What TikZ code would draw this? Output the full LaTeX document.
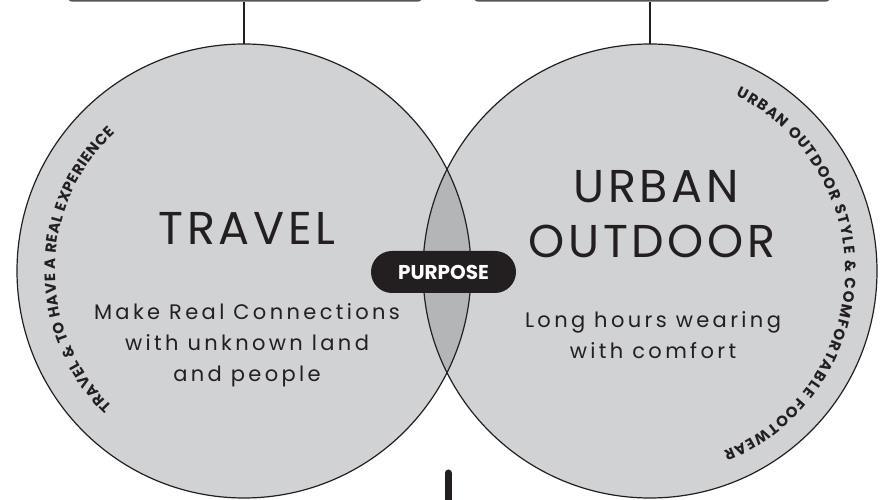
\documentclass[tikz,border=0pt]{standalone}
\usepackage{fontspec}
\setmainfont{Poppins}
\newfontfamily\titlefont[LetterSpace=8]{Poppins}
\newfontfamily\bodyfont[LetterSpace=16]{Poppins}
\usetikzlibrary{calc}
\usetikzlibrary{decorations.text}
\definecolor{ink}{HTML}{231F20}
\definecolor{disc}{HTML}{D1D2D4}
\definecolor{lensgray}{HTML}{B4B5B7}
\definecolor{boxline}{HTML}{555555}
\newcommand{\ringfont}{\bfseries\fontsize{15}{15}\selectfont}
\tikzset{x=1pt, y=1pt,
  venn/.style={circle, fill=disc, minimum size=454pt, inner sep=0pt},
  topbox/.style={draw=boxline, line width=1.5pt, rounded corners=6pt, fill=white, minimum height=30pt, inner sep=0pt},
  title/.style={font=\titlefont\fontsize{46}{50}\selectfont, text=ink, anchor=base},
  blurb/.style={font=\bodyfont\fontsize{21}{31}\selectfont, text=ink, align=center},
  pill/.style={fill=ink, text=white, rounded corners=21pt, minimum width=145pt, minimum height=42pt, inner sep=0pt, font=\bfseries\fontsize{20}{20}\selectfont}
}

\begin{document}
\begin{tikzpicture}
  \def\rad{227}
  \useasboundingbox (0,0) rectangle (888,500);

  % the two sets
  \node[venn] (travel) at (244,229) {};
  \node[venn] (urban) at (650,229) {};
  \begin{scope}
    \clip (travel.center) circle (\rad);
    \fill[lensgray] (urban.center) circle (\rad);
  \end{scope}
  \draw[ink, line width=1.2pt] (travel.center) circle (\rad);
  \draw[ink, line width=1.2pt] (urban.center) circle (\rad);

  % boxes above
  \node[topbox, minimum width=356pt] (travelbox) at (245,514) {};
  \node[topbox, minimum width=358pt] (urbanbox) at (652,514) {};
  \draw[ink, line width=1.2pt] (travel.north) -- (travel.north |- travelbox.south);
  \draw[ink, line width=1.2pt] (urban.north) -- (urban.north |- urbanbox.south);

  % TRAVEL
  \node[title] (traveltitle) at (247,255) {TRAVEL};
  \node[blurb] (travelblurb) at (247,155) {Make Real Connections\\with unknown land\\and people};
  \path[decorate, decoration={text along path, text align=fit to path, text color=ink,
      text={|\ringfont|TRAVEL {\&} TO HAVE A REAL EXPERIENCE}}]
    ($(travel.center)+(226:189)$) arc[start angle=226, end angle=133, radius=189];

  % URBAN OUTDOOR
  \node[title] (urbantitle) at (656,297) {URBAN};
  \node[title] (outdoortitle) at (652,242) {OUTDOOR};
  \node[blurb] (urbanblurb) at (653,165) {Long hours wearing\\with comfort};
  \path[decorate, decoration={text along path, text align=fit to path, text color=ink,
      text={|\ringfont|URBAN OUTDOOR STYLE {\&} COMFORTABLE FOOTWEAR}}]
    ($(urban.center)+(64:195)$) arc[start angle=64, end angle=-68, radius=195];

  % overlap
  \node[pill] (purpose) at (443.5,228) {PURPOSE};

  % stub below
  \coordinate (stubtop) at (448,27);
  \coordinate (stubend) at (448,-10);
  \draw[ink, line width=7pt, line cap=round] (stubtop) -- (stubend);
\end{tikzpicture}
\end{document}
